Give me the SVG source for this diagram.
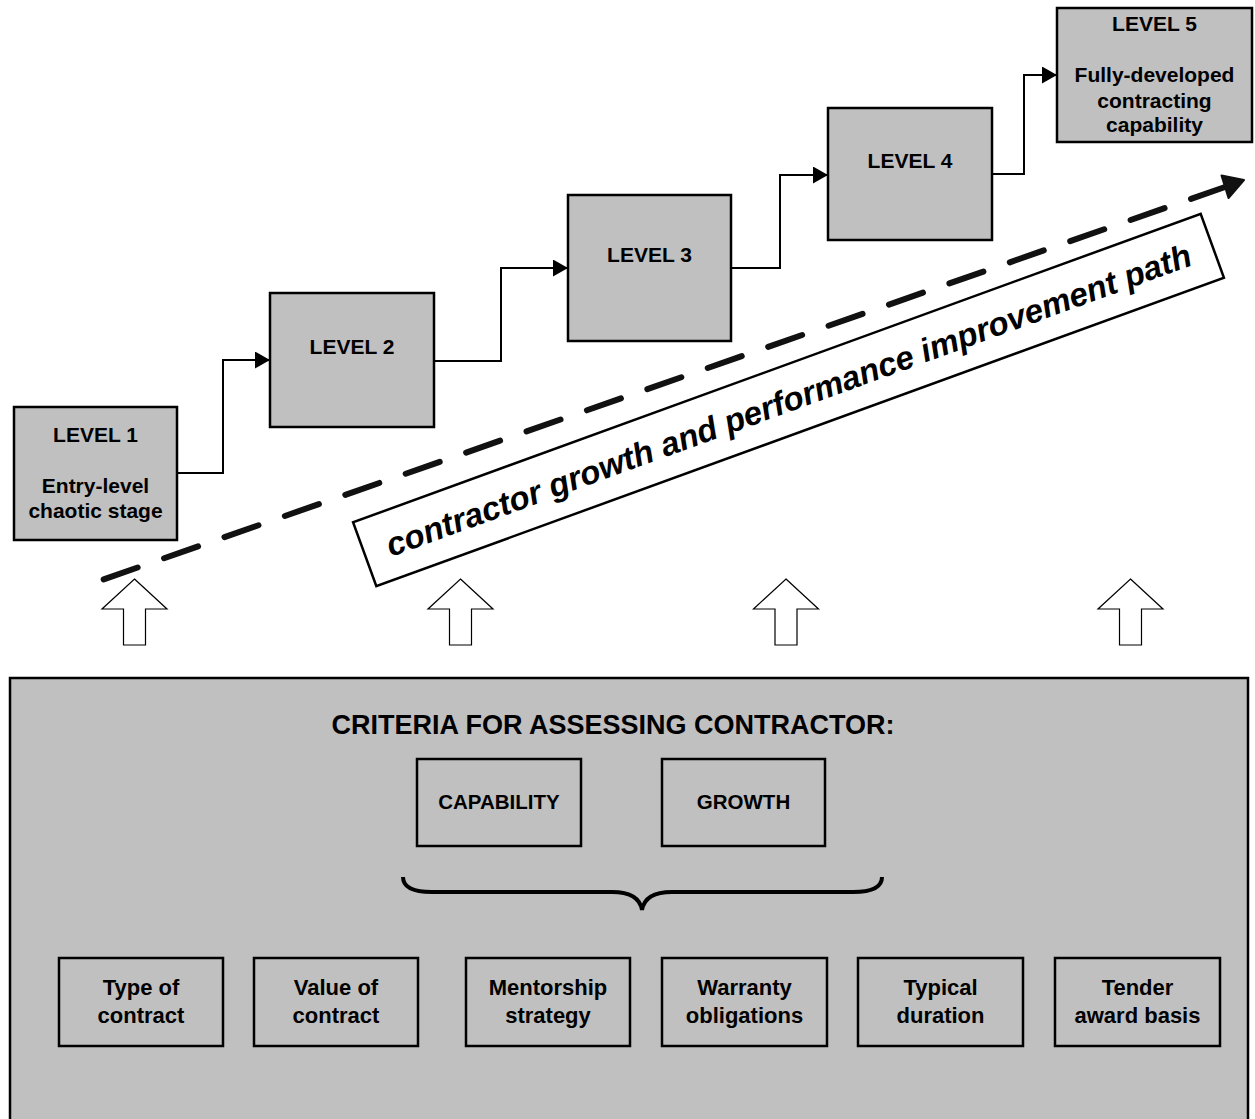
<svg xmlns="http://www.w3.org/2000/svg" width="1255" height="1119" viewBox="0 0 1255 1119">
  <style>
    .box { fill: #c0c0c0; stroke: #000; stroke-width: 2.5; }
    .sub { fill: none; stroke: #000; stroke-width: 2.5; }
    .lbl { font-family: "Liberation Sans", Arial, sans-serif; font-weight: bold; fill: #000; text-anchor: middle; }
    .lvl { font-size: 21px; }
    .crit { font-size: 22px; }
    .key { font-size: 20.5px; }
    .wire { fill: none; stroke: #000; stroke-width: 2; }
    .hollow { fill: #fff; stroke: #000; stroke-width: 1.2; }
  </style>
  <defs>
    <marker id="tip" markerUnits="userSpaceOnUse" markerWidth="15" markerHeight="17" refX="15" refY="8.5" orient="auto">
      <path d="M0,0 L15,8.5 L0,17 Z" fill="#000"/>
    </marker>
  </defs>

  <rect width="1255" height="1119" fill="#fff"/>

  <!-- criteria panel -->
  <g id="criteria-panel">
    <rect class="box" x="10" y="678" width="1238" height="470"/>
    <text class="lbl" x="613" y="734" font-size="27">CRITERIA FOR ASSESSING CONTRACTOR:</text>
  </g>

  <g id="capability">
    <rect class="sub" x="417" y="759" width="164" height="87"/>
    <text class="lbl key" x="499" y="809">CAPABILITY</text>
  </g>
  <g id="growth">
    <rect class="sub" x="662" y="759" width="163" height="87"/>
    <text class="lbl key" x="743.5" y="809">GROWTH</text>
  </g>

  <g id="brace">
    <path d="M403,877 C403,888 414,892 432,892 L612,892 C630,892 640,898 642,910 C644,898 654,892 672,892 L853,892 C871,892 882,888 882,877" fill="none" stroke="#000" stroke-width="4"/>
  </g>

  <g id="type-of-contract">
    <rect class="sub" x="59" y="958" width="164" height="88"/>
    <text class="lbl crit" x="141" y="995">Type of</text>
    <text class="lbl crit" x="141" y="1023">contract</text>
  </g>
  <g id="value-of-contract">
    <rect class="sub" x="254" y="958" width="164" height="88"/>
    <text class="lbl crit" x="336" y="995">Value of</text>
    <text class="lbl crit" x="336" y="1023">contract</text>
  </g>
  <g id="mentorship-strategy">
    <rect class="sub" x="466" y="958" width="164" height="88"/>
    <text class="lbl crit" x="548" y="995">Mentorship</text>
    <text class="lbl crit" x="548" y="1023">strategy</text>
  </g>
  <g id="warranty-obligations">
    <rect class="sub" x="662" y="958" width="165" height="88"/>
    <text class="lbl crit" x="744.5" y="995">Warranty</text>
    <text class="lbl crit" x="744.5" y="1023">obligations</text>
  </g>
  <g id="typical-duration">
    <rect class="sub" x="858" y="958" width="165" height="88"/>
    <text class="lbl crit" x="940.5" y="995">Typical</text>
    <text class="lbl crit" x="940.5" y="1023">duration</text>
  </g>
  <g id="tender-award-basis">
    <rect class="sub" x="1055" y="958" width="165" height="88"/>
    <text class="lbl crit" x="1137.5" y="995">Tender</text>
    <text class="lbl crit" x="1137.5" y="1023">award basis</text>
  </g>

  <!-- hollow arrows feeding the path -->
  <g id="feed-arrows">
    <path class="hollow" d="M134.5,579 L167,609 L145.5,609 L145.5,645 L123.5,645 L123.5,609 L102,609 Z"/>
    <path class="hollow" d="M460.5,579 L493,609 L471.5,609 L471.5,645 L449.5,645 L449.5,609 L428,609 Z"/>
    <path class="hollow" d="M786,579 L818.5,609 L797,609 L797,645 L775,645 L775,609 L753.5,609 Z"/>
    <path class="hollow" d="M1130.5,579 L1163,609 L1141.5,609 L1141.5,645 L1119.5,645 L1119.5,609 L1098,609 Z"/>
  </g>

  <!-- improvement path label -->
  <g id="path-label" transform="translate(788.5,400) rotate(-20)">
    <rect x="-451" y="-34" width="902" height="68" fill="#fff" stroke="#000" stroke-width="2.5"/>
    <text class="lbl" x="0" y="11.5" font-size="33" font-style="italic">contractor growth and performance improvement path</text>
  </g>

  <!-- dashed trend arrow -->
  <g id="trend">
    <path d="M1225,187 L102,580" fill="none" stroke="#111" stroke-width="6" stroke-linecap="round" stroke-dasharray="36 28"/>
    <path d="M1244,180 L1221.5,175.5 L1228.5,198 Z" fill="#111" stroke="#111" stroke-width="2" stroke-linejoin="round"/>
  </g>

  <!-- level boxes -->
  <g id="level1">
    <rect class="box" x="14" y="407" width="163" height="133"/>
    <text class="lbl lvl" x="95.5" y="442">LEVEL 1</text>
    <text class="lbl lvl" x="95.5" y="493">Entry-level</text>
    <text class="lbl lvl" x="95.5" y="518">chaotic stage</text>
  </g>
  <g id="level2">
    <rect class="box" x="270" y="293" width="164" height="134"/>
    <text class="lbl lvl" x="352" y="354">LEVEL 2</text>
  </g>
  <g id="level3">
    <rect class="box" x="568" y="195" width="163" height="146"/>
    <text class="lbl lvl" x="649.5" y="262">LEVEL 3</text>
  </g>
  <g id="level4">
    <rect class="box" x="828" y="108" width="164" height="132"/>
    <text class="lbl lvl" x="910" y="168">LEVEL 4</text>
  </g>
  <g id="level5">
    <rect class="box" x="1057" y="8" width="195" height="134"/>
    <text class="lbl lvl" x="1154.5" y="31">LEVEL 5</text>
    <text class="lbl lvl" x="1154.5" y="82">Fully-developed</text>
    <text class="lbl lvl" x="1154.5" y="108">contracting</text>
    <text class="lbl lvl" x="1154.5" y="132">capability</text>
  </g>

  <!-- step connectors between levels -->
  <g id="connectors">
    <path class="wire" d="M177,473 H223 V360 H270" marker-end="url(#tip)"/>
    <path class="wire" d="M434,361 H501 V268 H568" marker-end="url(#tip)"/>
    <path class="wire" d="M731,268 H780 V175 H828" marker-end="url(#tip)"/>
    <path class="wire" d="M992,174 H1024 V75 H1057" marker-end="url(#tip)"/>
  </g>
</svg>
